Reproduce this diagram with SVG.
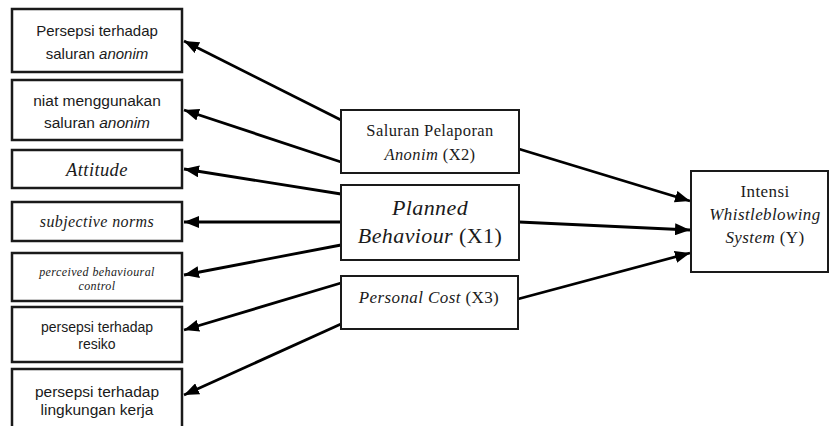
<svg xmlns="http://www.w3.org/2000/svg" width="829" height="426" viewBox="0 0 829 426">
<style>
.box{fill:#fff;stroke:#1a1a1a;stroke-width:2.5}
.mbox{fill:#fff;stroke:#1a1a1a;stroke-width:2}
.sans{font-family:"Liberation Sans",Arial,sans-serif;fill:#1a1a1a;text-anchor:middle}
.serif{font-family:"Liberation Serif","Times New Roman",serif;fill:#1a1a1a;text-anchor:middle;letter-spacing:0.4px}
.it{font-style:italic}
.conn line{stroke:#000;stroke-width:2.8;marker-end:url(#ah)}
</style>
<defs>
<marker id="ah" markerUnits="userSpaceOnUse" markerWidth="15" markerHeight="12" viewBox="0 0 15 12" refX="15" refY="6" orient="auto">
<path d="M0,0 L15,6 L0,12 Z" fill="#000"/>
</marker>
</defs>
<rect width="829" height="426" fill="#fff"/>
<g id="connectors" class="conn">
<line x1="341" y1="120" x2="184" y2="41"/>
<line x1="341" y1="162" x2="184" y2="110"/>
<line x1="341" y1="194" x2="184" y2="169"/>
<line x1="341" y1="222" x2="184" y2="222"/>
<line x1="341" y1="245" x2="184" y2="275"/>
<line x1="341" y1="283" x2="184" y2="330"/>
<line x1="341" y1="324" x2="184" y2="395"/>
<line x1="519" y1="149" x2="690" y2="201"/>
<line x1="519" y1="222" x2="690" y2="230"/>
<line x1="518" y1="299" x2="690" y2="253"/>
</g>
<g id="n-persepsi-saluran">
<rect class="box" x="12" y="9" width="170" height="63"/>
<text class="sans" x="97" y="36" font-size="15">Persepsi terhadap</text>
<text class="sans" x="97" y="59" font-size="15">saluran <tspan class="it">anonim</tspan></text>
</g>
<g id="n-niat">
<rect class="box" x="12" y="80" width="170" height="60"/>
<text class="sans" x="97" y="106" font-size="15.5">niat menggunakan</text>
<text class="sans" x="97" y="128" font-size="15.5">saluran <tspan class="it">anonim</tspan></text>
</g>
<g id="n-attitude">
<rect class="box" x="12" y="150" width="170" height="38"/>
<text class="serif it" x="97" y="176" font-size="18.5">Attitude</text>
</g>
<g id="n-subjective">
<rect class="box" x="12" y="202" width="170" height="39"/>
<text class="serif it" x="97" y="227" font-size="16">subjective norms</text>
</g>
<g id="n-perceived">
<rect class="box" x="12" y="253" width="170" height="48"/>
<text class="serif it" x="97" y="276" font-size="12">perceived behavioural</text>
<text class="serif it" x="97" y="290" font-size="12">control</text>
</g>
<g id="n-resiko">
<rect class="box" x="12" y="307" width="170" height="55"/>
<text class="sans" x="97" y="332" font-size="14">persepsi terhadap</text>
<text class="sans" x="97" y="349" font-size="14">resiko</text>
</g>
<g id="n-lingkungan">
<rect class="box" x="12" y="369" width="170" height="62"/>
<text class="sans" x="97" y="397" font-size="15.5">persepsi terhadap</text>
<text class="sans" x="97" y="415" font-size="15.5">lingkungan kerja</text>
</g>
<g id="n-x2">
<rect class="mbox" x="341" y="110" width="178" height="63"/>
<text class="serif" x="430" y="136" font-size="16.5">Saluran Pelaporan</text>
<text class="serif" x="430" y="160" font-size="16.5"><tspan class="it">Anonim</tspan> (X2)</text>
</g>
<g id="n-x1">
<rect class="mbox" x="341" y="185" width="178" height="75"/>
<text class="serif it" x="430" y="215" font-size="22">Planned</text>
<text class="serif" x="430" y="243" font-size="22"><tspan class="it">Behaviour</tspan> (X1)</text>
</g>
<g id="n-x3">
<rect class="mbox" x="341" y="276" width="177" height="53"/>
<text class="serif" x="429" y="303" font-size="17"><tspan class="it">Personal Cost</tspan> (X3)</text>
</g>
<g id="n-y">
<rect class="mbox" x="691" y="171" width="137" height="101"/>
<text class="serif" x="765" y="197" font-size="17">Intensi</text>
<text class="serif it" x="765" y="220" font-size="17">Whistleblowing</text>
<text class="serif" x="765" y="243" font-size="17"><tspan class="it">System</tspan> (Y)</text>
</g>
</svg>
